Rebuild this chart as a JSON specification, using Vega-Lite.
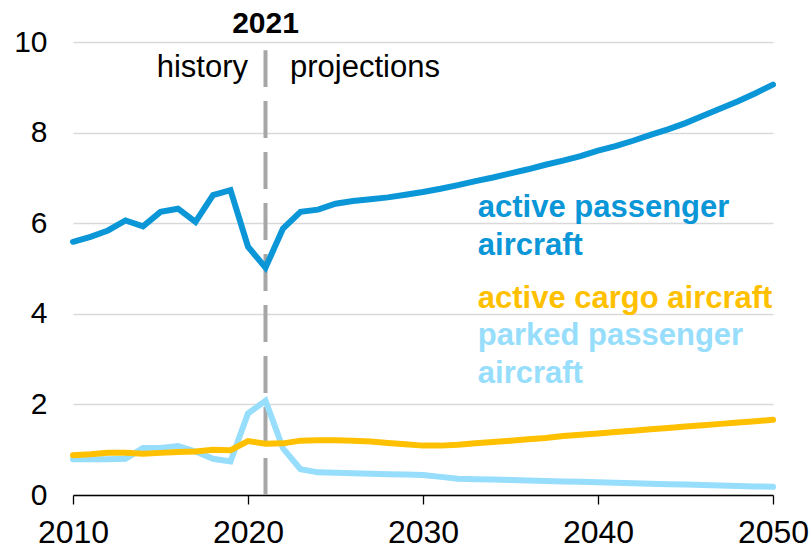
{
  "$schema": "https://vega.github.io/schema/vega-lite/v6.json",
  "width": 700,
  "height": 453,
  "autosize": {"type": "none"},
  "padding": {"left": 73, "top": 42, "right": 38, "bottom": 53},
  "background": "white",
  "config": {
    "view": {"stroke": null},
    "font": "Liberation Sans",
    "axis": {"labelFont": "Liberation Sans", "labelColor": "#000000"}
  },
  "datasets": {
    "series": [
      {"year": 2010, "value": 0.79, "series": "parked passenger aircraft"},
      {"year": 2011, "value": 0.79, "series": "parked passenger aircraft"},
      {"year": 2012, "value": 0.79, "series": "parked passenger aircraft"},
      {"year": 2013, "value": 0.80, "series": "parked passenger aircraft"},
      {"year": 2014, "value": 1.04, "series": "parked passenger aircraft"},
      {"year": 2015, "value": 1.04, "series": "parked passenger aircraft"},
      {"year": 2016, "value": 1.08, "series": "parked passenger aircraft"},
      {"year": 2017, "value": 0.96, "series": "parked passenger aircraft"},
      {"year": 2018, "value": 0.80, "series": "parked passenger aircraft"},
      {"year": 2019, "value": 0.74, "series": "parked passenger aircraft"},
      {"year": 2020, "value": 1.80, "series": "parked passenger aircraft"},
      {"year": 2021, "value": 2.08, "series": "parked passenger aircraft"},
      {"year": 2022, "value": 1.03, "series": "parked passenger aircraft"},
      {"year": 2023, "value": 0.57, "series": "parked passenger aircraft"},
      {"year": 2024, "value": 0.50, "series": "parked passenger aircraft"},
      {"year": 2025, "value": 0.49, "series": "parked passenger aircraft"},
      {"year": 2026, "value": 0.48, "series": "parked passenger aircraft"},
      {"year": 2027, "value": 0.47, "series": "parked passenger aircraft"},
      {"year": 2028, "value": 0.46, "series": "parked passenger aircraft"},
      {"year": 2029, "value": 0.45, "series": "parked passenger aircraft"},
      {"year": 2030, "value": 0.44, "series": "parked passenger aircraft"},
      {"year": 2031, "value": 0.40, "series": "parked passenger aircraft"},
      {"year": 2032, "value": 0.36, "series": "parked passenger aircraft"},
      {"year": 2033, "value": 0.35, "series": "parked passenger aircraft"},
      {"year": 2034, "value": 0.34, "series": "parked passenger aircraft"},
      {"year": 2035, "value": 0.33, "series": "parked passenger aircraft"},
      {"year": 2036, "value": 0.32, "series": "parked passenger aircraft"},
      {"year": 2037, "value": 0.31, "series": "parked passenger aircraft"},
      {"year": 2038, "value": 0.30, "series": "parked passenger aircraft"},
      {"year": 2039, "value": 0.29, "series": "parked passenger aircraft"},
      {"year": 2040, "value": 0.28, "series": "parked passenger aircraft"},
      {"year": 2041, "value": 0.27, "series": "parked passenger aircraft"},
      {"year": 2042, "value": 0.26, "series": "parked passenger aircraft"},
      {"year": 2043, "value": 0.25, "series": "parked passenger aircraft"},
      {"year": 2044, "value": 0.24, "series": "parked passenger aircraft"},
      {"year": 2045, "value": 0.23, "series": "parked passenger aircraft"},
      {"year": 2046, "value": 0.22, "series": "parked passenger aircraft"},
      {"year": 2047, "value": 0.21, "series": "parked passenger aircraft"},
      {"year": 2048, "value": 0.20, "series": "parked passenger aircraft"},
      {"year": 2049, "value": 0.19, "series": "parked passenger aircraft"},
      {"year": 2050, "value": 0.18, "series": "parked passenger aircraft"},
      {"year": 2010, "value": 0.88, "series": "active cargo aircraft"},
      {"year": 2011, "value": 0.90, "series": "active cargo aircraft"},
      {"year": 2012, "value": 0.93, "series": "active cargo aircraft"},
      {"year": 2013, "value": 0.93, "series": "active cargo aircraft"},
      {"year": 2014, "value": 0.91, "series": "active cargo aircraft"},
      {"year": 2015, "value": 0.93, "series": "active cargo aircraft"},
      {"year": 2016, "value": 0.95, "series": "active cargo aircraft"},
      {"year": 2017, "value": 0.96, "series": "active cargo aircraft"},
      {"year": 2018, "value": 1.00, "series": "active cargo aircraft"},
      {"year": 2019, "value": 0.99, "series": "active cargo aircraft"},
      {"year": 2020, "value": 1.19, "series": "active cargo aircraft"},
      {"year": 2021, "value": 1.13, "series": "active cargo aircraft"},
      {"year": 2022, "value": 1.14, "series": "active cargo aircraft"},
      {"year": 2023, "value": 1.20, "series": "active cargo aircraft"},
      {"year": 2024, "value": 1.21, "series": "active cargo aircraft"},
      {"year": 2025, "value": 1.21, "series": "active cargo aircraft"},
      {"year": 2026, "value": 1.20, "series": "active cargo aircraft"},
      {"year": 2027, "value": 1.18, "series": "active cargo aircraft"},
      {"year": 2028, "value": 1.15, "series": "active cargo aircraft"},
      {"year": 2029, "value": 1.12, "series": "active cargo aircraft"},
      {"year": 2030, "value": 1.09, "series": "active cargo aircraft"},
      {"year": 2031, "value": 1.09, "series": "active cargo aircraft"},
      {"year": 2032, "value": 1.11, "series": "active cargo aircraft"},
      {"year": 2033, "value": 1.14, "series": "active cargo aircraft"},
      {"year": 2034, "value": 1.17, "series": "active cargo aircraft"},
      {"year": 2035, "value": 1.20, "series": "active cargo aircraft"},
      {"year": 2036, "value": 1.23, "series": "active cargo aircraft"},
      {"year": 2037, "value": 1.26, "series": "active cargo aircraft"},
      {"year": 2038, "value": 1.30, "series": "active cargo aircraft"},
      {"year": 2039, "value": 1.33, "series": "active cargo aircraft"},
      {"year": 2040, "value": 1.36, "series": "active cargo aircraft"},
      {"year": 2041, "value": 1.39, "series": "active cargo aircraft"},
      {"year": 2042, "value": 1.42, "series": "active cargo aircraft"},
      {"year": 2043, "value": 1.45, "series": "active cargo aircraft"},
      {"year": 2044, "value": 1.48, "series": "active cargo aircraft"},
      {"year": 2045, "value": 1.51, "series": "active cargo aircraft"},
      {"year": 2046, "value": 1.54, "series": "active cargo aircraft"},
      {"year": 2047, "value": 1.57, "series": "active cargo aircraft"},
      {"year": 2048, "value": 1.60, "series": "active cargo aircraft"},
      {"year": 2049, "value": 1.63, "series": "active cargo aircraft"},
      {"year": 2050, "value": 1.66, "series": "active cargo aircraft"},
      {"year": 2010, "value": 5.59, "series": "active passenger aircraft"},
      {"year": 2011, "value": 5.70, "series": "active passenger aircraft"},
      {"year": 2012, "value": 5.84, "series": "active passenger aircraft"},
      {"year": 2013, "value": 6.06, "series": "active passenger aircraft"},
      {"year": 2014, "value": 5.93, "series": "active passenger aircraft"},
      {"year": 2015, "value": 6.25, "series": "active passenger aircraft"},
      {"year": 2016, "value": 6.32, "series": "active passenger aircraft"},
      {"year": 2017, "value": 6.03, "series": "active passenger aircraft"},
      {"year": 2018, "value": 6.62, "series": "active passenger aircraft"},
      {"year": 2019, "value": 6.73, "series": "active passenger aircraft"},
      {"year": 2020, "value": 5.48, "series": "active passenger aircraft"},
      {"year": 2021, "value": 5.02, "series": "active passenger aircraft"},
      {"year": 2022, "value": 5.88, "series": "active passenger aircraft"},
      {"year": 2023, "value": 6.25, "series": "active passenger aircraft"},
      {"year": 2024, "value": 6.30, "series": "active passenger aircraft"},
      {"year": 2025, "value": 6.43, "series": "active passenger aircraft"},
      {"year": 2026, "value": 6.49, "series": "active passenger aircraft"},
      {"year": 2027, "value": 6.53, "series": "active passenger aircraft"},
      {"year": 2028, "value": 6.57, "series": "active passenger aircraft"},
      {"year": 2029, "value": 6.63, "series": "active passenger aircraft"},
      {"year": 2030, "value": 6.69, "series": "active passenger aircraft"},
      {"year": 2031, "value": 6.76, "series": "active passenger aircraft"},
      {"year": 2032, "value": 6.84, "series": "active passenger aircraft"},
      {"year": 2033, "value": 6.93, "series": "active passenger aircraft"},
      {"year": 2034, "value": 7.01, "series": "active passenger aircraft"},
      {"year": 2035, "value": 7.10, "series": "active passenger aircraft"},
      {"year": 2036, "value": 7.19, "series": "active passenger aircraft"},
      {"year": 2037, "value": 7.29, "series": "active passenger aircraft"},
      {"year": 2038, "value": 7.38, "series": "active passenger aircraft"},
      {"year": 2039, "value": 7.48, "series": "active passenger aircraft"},
      {"year": 2040, "value": 7.60, "series": "active passenger aircraft"},
      {"year": 2041, "value": 7.70, "series": "active passenger aircraft"},
      {"year": 2042, "value": 7.82, "series": "active passenger aircraft"},
      {"year": 2043, "value": 7.95, "series": "active passenger aircraft"},
      {"year": 2044, "value": 8.07, "series": "active passenger aircraft"},
      {"year": 2045, "value": 8.21, "series": "active passenger aircraft"},
      {"year": 2046, "value": 8.37, "series": "active passenger aircraft"},
      {"year": 2047, "value": 8.53, "series": "active passenger aircraft"},
      {"year": 2048, "value": 8.69, "series": "active passenger aircraft"},
      {"year": 2049, "value": 8.87, "series": "active passenger aircraft"},
      {"year": 2050, "value": 9.06, "series": "active passenger aircraft"}
    ]
  },
  "layer": [
    {
      "data": {"values": [{}]},
      "mark": {"type": "rule", "color": "#A6A6A6", "strokeWidth": 4, "strokeDash": [37, 14]},
      "encoding": {
        "x": {"datum": 2021, "type": "quantitative"},
        "y": {"datum": 0, "type": "quantitative"},
        "y2": {"datum": 9.82}
      }
    },
    {
      "data": {"name": "series"},
      "mark": {"type": "line", "strokeWidth": 6, "strokeCap": "round"},
      "encoding": {
        "x": {
          "field": "year", "type": "quantitative",
          "scale": {"domain": [2010, 2050], "nice": false, "zero": false},
          "axis": {
            "title": null, "values": [2010, 2020, 2030, 2040, 2050], "format": "d",
            "grid": false, "domainColor": "#000000", "domainWidth": 1.3,
            "tickColor": "#000000", "tickWidth": 1.3, "tickSize": 9,
            "labelFontSize": 32, "labelPadding": 13, "labelFlush": false, "labelOverlap": false
          }
        },
        "y": {
          "field": "value", "type": "quantitative",
          "scale": {"domain": [0, 10], "nice": false},
          "axis": {
            "title": null, "values": [0, 2, 4, 6, 8, 10], "domain": false, "ticks": false,
            "grid": true, "gridColor": "#D9D9D9", "gridWidth": 1.5,
            "labelFontSize": 30, "labelPadding": 26
          }
        },
        "color": {
          "field": "series", "type": "nominal",
          "scale": {
            "domain": ["parked passenger aircraft", "active cargo aircraft", "active passenger aircraft"],
            "range": ["#97DDFC", "#FFC000", "#0A96D7"]
          },
          "legend": null
        }
      }
    },
    {
      "data": {"values": [{}]},
      "mark": {"type": "text", "align": "center", "baseline": "alphabetic", "fontSize": 30, "fontWeight": "bold", "color": "#000000"},
      "encoding": {
        "x": {"datum": 2021, "type": "quantitative"},
        "y": {"datum": 10.19, "type": "quantitative"},
        "text": {"value": "2021"}
      }
    },
    {
      "data": {"values": [{}]},
      "mark": {"type": "text", "align": "right", "baseline": "alphabetic", "fontSize": 31, "color": "#000000"},
      "encoding": {
        "x": {"datum": 2020, "type": "quantitative"},
        "y": {"datum": 9.22, "type": "quantitative"},
        "text": {"value": "history"}
      }
    },
    {
      "data": {"values": [{}]},
      "mark": {"type": "text", "align": "left", "baseline": "alphabetic", "fontSize": 31, "color": "#000000"},
      "encoding": {
        "x": {"datum": 2022.4, "type": "quantitative"},
        "y": {"datum": 9.22, "type": "quantitative"},
        "text": {"value": "projections"}
      }
    },
    {
      "data": {"values": [{}]},
      "mark": {"type": "text", "align": "left", "baseline": "alphabetic", "fontSize": 31, "fontWeight": "bold", "color": "#0A96D7", "lineHeight": 38},
      "encoding": {
        "x": {"datum": 2033.13, "type": "quantitative"},
        "y": {"datum": 6.13, "type": "quantitative"},
        "text": {"value": ["active passenger", "aircraft"]}
      }
    },
    {
      "data": {"values": [{}]},
      "mark": {"type": "text", "align": "left", "baseline": "alphabetic", "fontSize": 31, "fontWeight": "bold", "color": "#FFC000"},
      "encoding": {
        "x": {"datum": 2033.13, "type": "quantitative"},
        "y": {"datum": 4.12, "type": "quantitative"},
        "text": {"value": "active cargo aircraft"}
      }
    },
    {
      "data": {"values": [{}]},
      "mark": {"type": "text", "align": "left", "baseline": "alphabetic", "fontSize": 31, "fontWeight": "bold", "color": "#97DDFC", "lineHeight": 38},
      "encoding": {
        "x": {"datum": 2033.13, "type": "quantitative"},
        "y": {"datum": 3.31, "type": "quantitative"},
        "text": {"value": ["parked passenger", "aircraft"]}
      }
    }
  ]
}
